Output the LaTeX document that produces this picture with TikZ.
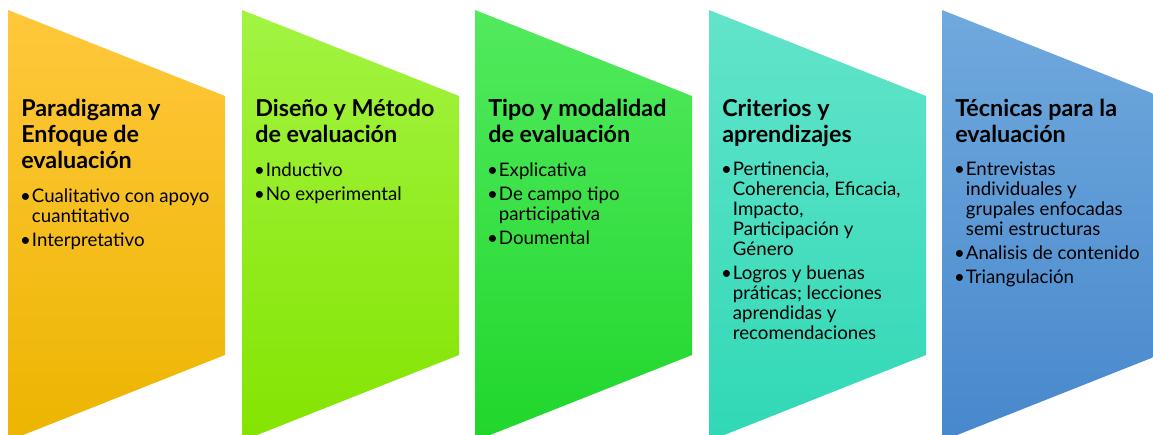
\documentclass[tikz,border=0pt]{standalone}
\usepackage{fontspec}
\setmainfont{Lato}
\usetikzlibrary{positioning}

\definecolor{amberTop}{HTML}{FFC83C}
\definecolor{amberBot}{HTML}{ECB500}
\definecolor{limeTop}{HTML}{A2F442}
\definecolor{limeBot}{HTML}{84E400}
\definecolor{greenTop}{HTML}{52EA5E}
\definecolor{greenBot}{HTML}{20D62C}
\definecolor{tealTop}{HTML}{62E4CA}
\definecolor{tealBot}{HTML}{30D8B6}
\definecolor{blueTop}{HTML}{70A9DD}
\definecolor{blueBot}{HTML}{4787CC}

\newcommand{\itm}{\makebox[8pt][l]{\hspace*{-0.8pt}\textbullet}}
\newcommand{\cont}{\hspace*{8pt}}

\begin{document}
\begin{tikzpicture}[x=0.75pt, y=-0.75pt,
    title/.style={anchor=north west, inner sep=0pt, align=left,
      font=\bfseries\fontsize{17.5}{19.5}\selectfont,
      execute at end node=\strut},
    items/.style={anchor=north west, inner sep=0pt, align=left,
      font=\fontsize{14}{15}\selectfont}]

  \clip (0,0) rectangle (1153,435);

  % Panels
  \shade[top color=amberTop, bottom color=amberBot]
    (8,10) -- (225,96) -- (225,355) -- (8,441) -- cycle;
  \shade[top color=limeTop, bottom color=limeBot]
    (242,10) -- (459,96) -- (459,355) -- (242,441) -- cycle;
  \shade[top color=greenTop, bottom color=greenBot]
    (475,10) -- (692,96) -- (692,355) -- (475,441) -- cycle;
  \shade[top color=tealTop, bottom color=tealBot]
    (709,10) -- (926,96) -- (926,355) -- (709,441) -- cycle;
  \shade[top color=blueTop, bottom color=blueBot]
    (942,10) -- (1159,96) -- (1159,355) -- (942,441) -- cycle;

  % Titles
  \node[title] (t1) at (21,99) {Paradigama y\\Enfoque de\\evaluación};
  \node[title] (t2) at (255,99) {Diseño y Método\\de evaluación};
  \node[title] (t3) at (488,99) {Tipo y modalidad\\de evaluación};
  \node[title] (t4) at (722,99) {Criterios y\\aprendizajes};
  \node[title] (t5) at (955,99) {Técnicas para la\\evaluación};

  % Lists
  \node[items, below=8.5pt of t1.south west, anchor=north west] (l1)
    {\itm Cualitativo con apoyo\\\cont cuantitativo\\[3pt]
     \itm Interpretativo};
  \node[items, below=8.5pt of t2.south west, anchor=north west] (l2)
    {\itm Inductivo\\[3pt]
     \itm No experimental};
  \node[items, below=8.5pt of t3.south west, anchor=north west] (l3)
    {\itm Explicativa\\[3pt]
     \itm De campo tipo\\\cont participativa\\[3pt]
     \itm Doumental};
  \node[items, below=8.5pt of t4.south west, anchor=north west] (l4)
    {\itm Pertinencia,\\\cont Coherencia, Eficacia,\\\cont Impacto,\\
     \cont Participación y\\\cont Género\\[3pt]
     \itm Logros y buenas\\\cont práticas; lecciones\\\cont aprendidas y\\
     \cont recomendaciones};
  \node[items, below=8.5pt of t5.south west, anchor=north west] (l5)
    {\itm Entrevistas\\\cont individuales y\\\cont grupales enfocadas\\
     \cont semi estructuras\\[3pt]
     \itm Analisis de contenido\\[3pt]
     \itm Triangulación};
\end{tikzpicture}
\end{document}
